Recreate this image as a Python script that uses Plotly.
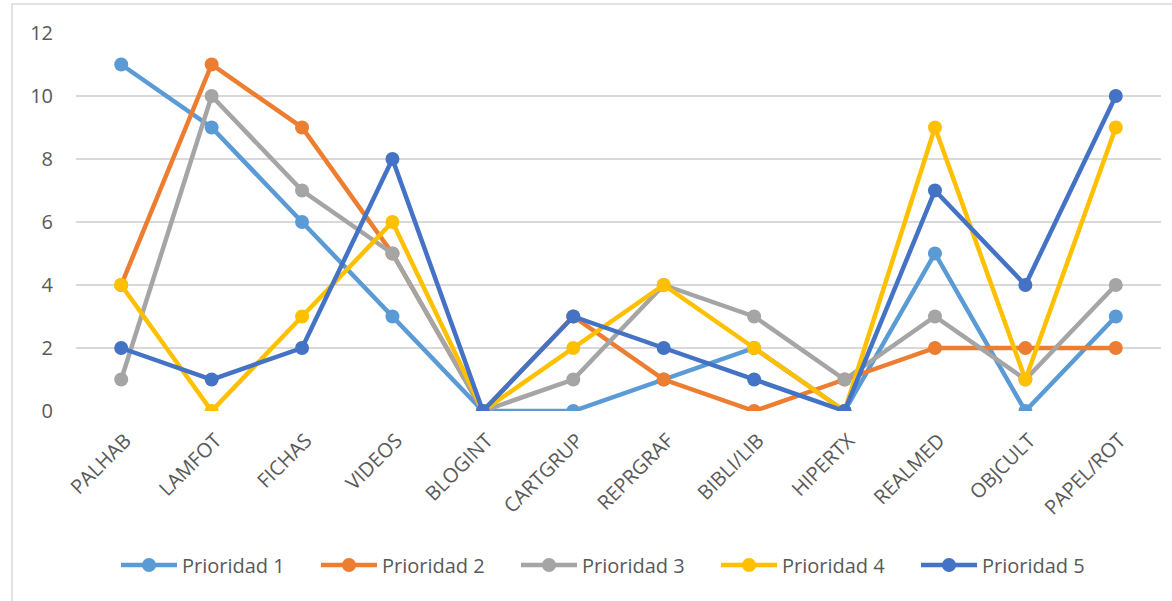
import plotly.graph_objects as go

categories = ["PALHAB", "LAMFOT", "FICHAS", "VIDEOS", "BLOGINT", "CARTGRUP",
              "REPRGRAF", "BIBLI/LIB", "HIPERTX", "REALMED", "OBJCULT", "PAPEL/ROT"]
prioridad_1 = [11, 9, 6, 3, 0, 0, 1, 2, 0, 5, 0, 3]
prioridad_2 = [4, 11, 9, 5, 0, 3, 1, 0, 1, 2, 2, 2]
prioridad_3 = [1, 10, 7, 5, 0, 1, 4, 3, 1, 3, 1, 4]
prioridad_4 = [4, 0, 3, 6, 0, 2, 4, 2, 0, 9, 1, 9]
prioridad_5 = [2, 1, 2, 8, 0, 3, 2, 1, 0, 7, 4, 10]

series_names = ["Prioridad 1", "Prioridad 2", "Prioridad 3", "Prioridad 4", "Prioridad 5"]
series_values = [prioridad_1, prioridad_2, prioridad_3, prioridad_4, prioridad_5]
colors = ["#5B9BD5", "#ED7D31", "#A5A5A5", "#FFC000", "#4472C4"]

FONT = "Open Sans, sans-serif"
FS = 20
W, H = 1172, 601
L, R, T, B = 76, 11, 33, 190

fig = go.Figure()
for name, vals, c in zip(series_names, series_values, colors):
    fig.add_trace(go.Scatter(
        x=categories, y=vals, name=name, mode="lines+markers",
        line=dict(color=c, width=4.5),
        marker=dict(color=c, size=14),
    ))

pw = W - L - R
ph = H - T - B
fig.add_shape(type="rect", xref="paper", yref="paper",
              x0=(12 - L) / pw, x1=(1190 - L) / pw,
              y0=1 - (620 - T) / ph, y1=1 + (T - 4) / ph,
              line=dict(color="#D9D9D9", width=1.5), fillcolor="rgba(0,0,0,0)",
              layer="below")

fig.update_layout(
    width=W, height=H,
    margin=dict(l=L, r=R, t=T, b=B, autoexpand=False),
    paper_bgcolor="white", plot_bgcolor="white",
    font=dict(family=FONT, size=FS, color="#595959"),
    showlegend=True,
    legend=dict(orientation="h", x=(116 - L) / pw, xanchor="left",
                y=(411 - 565) / ph, yanchor="middle",
                font=dict(size=FS, color="#595959"),
                entrywidth=129, entrywidthmode="pixels", itemwidth=56, tracegroupgap=0),
    xaxis=dict(type="category", tickangle=-45, showgrid=False, showline=False, automargin=False,
               ticks="", tickfont=dict(size=FS, color="#595959"), range=[-0.5, 11.5],
               ticklabelstandoff=13, ticklabelshift=4),
    yaxis=dict(range=[0, 12], dtick=2, showgrid=True, gridcolor="#D9D9D9", gridwidth=1.5,
               automargin=False,
               zeroline=False, showline=False, ticks="outside", ticklen=18, tickcolor="white",
               tickfont=dict(size=FS, color="#595959")),
)
fig.write_html("out.html", config={"displayModeBar": False},
               post_script="document.body.style.margin='0';")
